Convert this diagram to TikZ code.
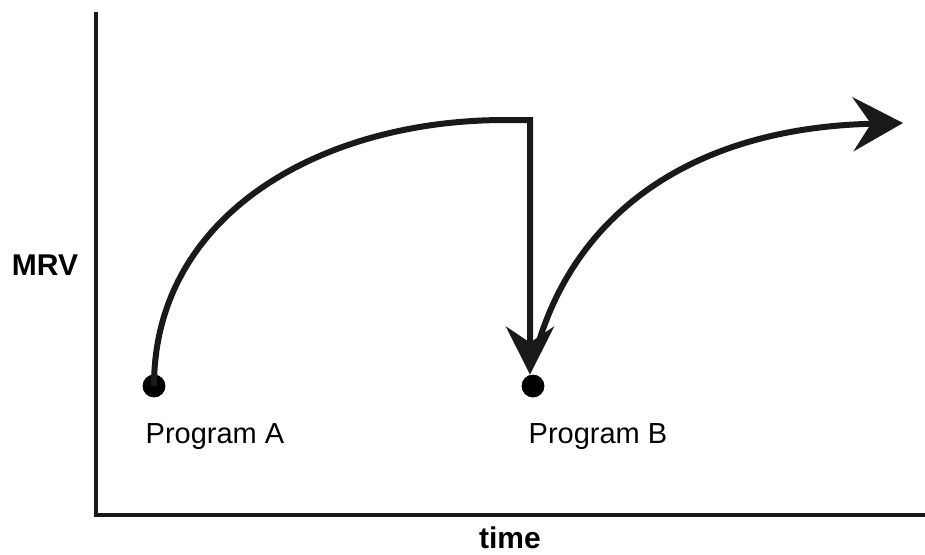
\documentclass[tikz,border=0pt]{standalone}
\usepackage{fontspec}
\setmainfont{Liberation Sans}
\usetikzlibrary{arrows.meta}

\begin{document}
\begin{tikzpicture}[x=0.5pt, y=-0.5pt, line join=miter]
\useasboundingbox (0,0) rectangle (925,554);
% Axes
\coordinate (o) at (96,515);
\coordinate (ytop) at (96,12);
\coordinate (xend) at (925,515);
\draw[line width=2pt, color=black!90] (ytop) -- (o) -- (xend);
\node[font=\bfseries\fontsize{15}{18}\selectfont] (mrv) at (45,265) {MRV};
\node[font=\bfseries\fontsize{15}{18}\selectfont, inner sep=0pt] (time) at (510,538) {time};
% Programmes
\node[draw, circle, fill=black, minimum size=11pt, inner sep=0pt] (A) at (154,386) {};
\node[draw, circle, fill=black, minimum size=11pt, inner sep=0pt] (B) at (533,386) {};
\node[font=\fontsize{14.5}{17}\selectfont] (la) at (215,437) {Program A};
\node[font=\fontsize{14.5}{17}\selectfont] (lb) at (598,437) {Program B};
% Courbes
\coordinate (peak) at (530,120);
\coordinate (bstart) at (537,348);
\coordinate (up) at (903,123);
\draw[line width=3pt, color=black!90, -{Stealth[length=24pt, width=24pt, inset=8pt]}]
  (A.center) .. controls (154,215) and (320,120) .. (505,120) -- (peak) -- (peak |- B.north);
\draw[line width=3pt, color=black!90, -{Stealth[length=25pt, width=27pt, inset=9pt]}]
  (bstart) .. controls (575,215) and (690,128) .. (up);
\end{tikzpicture}
\end{document}
